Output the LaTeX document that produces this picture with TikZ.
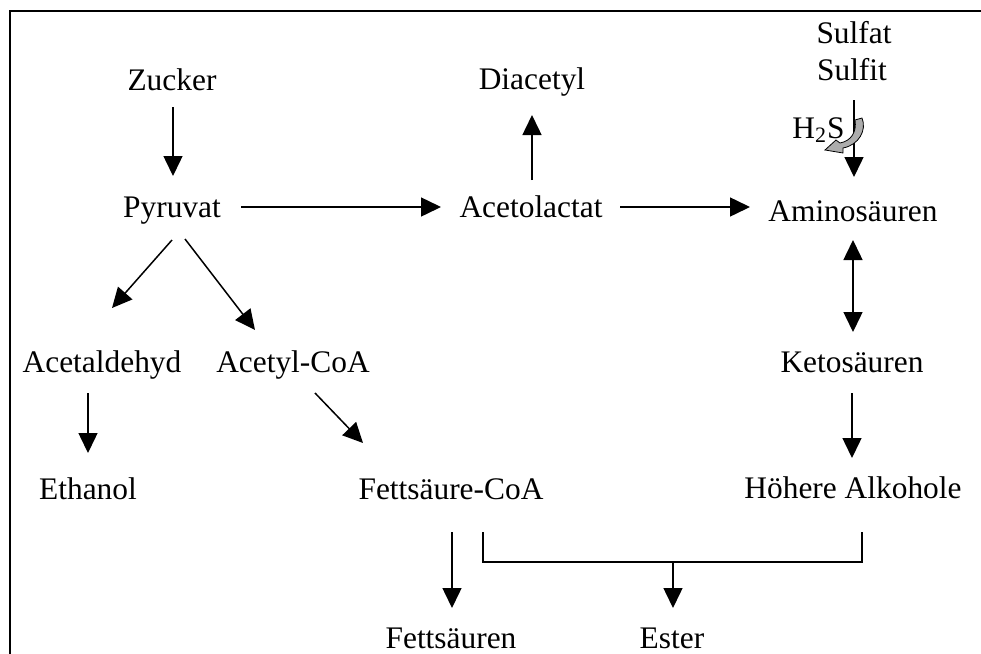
\documentclass[tikz,border=0pt]{standalone}
\usepackage{fontspec}
\setmainfont{Liberation Serif}
\usetikzlibrary{arrows.meta,calc}
\begin{document}
\begin{tikzpicture}[x=0.5pt,y=-0.5pt,
  lbl/.style={inner sep=0pt,anchor=base,font=\fontsize{15.7}{18}\selectfont},
  arr/.style={line width=0.75pt,-{Triangle[length=10pt,width=9.5pt]}},
  darr/.style={line width=0.75pt,{Triangle[length=10pt,width=9.5pt]}-{Triangle[length=10pt,width=9.5pt]}},
  plain/.style={line width=0.75pt},
  frame/.style={line width=1pt}]
\useasboundingbox (0,0) rectangle (981,654);
\draw[frame] (10,660) -- (10,11) -- (990,11);
% nodes
\node[lbl] (zucker) at (172,90) {Zucker};
\node[lbl] (diacetyl) at (532,89) {Diacetyl};
\node[lbl] (sulfat) at (854,43) {Sulfat};
\node[lbl] (sulfit) at (852,80) {Sulfit};
\node[lbl,anchor=base west] (h2s) at (792,138) {H\textsubscript{2}S};
\node[lbl] (pyruvat) at (172,217) {Pyruvat};
\node[lbl] (acetolactat) at (531,217) {Acetolactat};
\node[lbl] (amino) at (853,221) {Aminosäuren};
\node[lbl] (acetaldehyd) at (102,372) {Acetaldehyd};
\node[lbl] (acetylcoa) at (293,372) {Acetyl-CoA};
\node[lbl] (keto) at (852,372) {Ketosäuren};
\node[lbl] (ethanol) at (88,499) {Ethanol};
\node[lbl] (fettcoa) at (451,499) {Fettsäure-CoA};
\node[lbl] (hoehere) at (853,498) {Höhere Alkohole};
\node[lbl] (fettsaeuren) at (451,648) {Fettsäuren};
\node[lbl] (ester) at (672,648) {Ester};
% connectors
\draw[arr] ($(zucker.base)+(1,17)$) -- ($(pyruvat.base)+(1,-41)$);
\draw[arr] ($(pyruvat.base)+(69,-10)$) -- ($(acetolactat.base)+(-90,-10)$);
\draw[arr] ($(acetolactat.base)+(89,-10)$) -- ($(amino.base)+(-103,-14)$);
\draw[arr] ($(acetolactat.base)+(1,-37)$) -- ($(diacetyl.base)+(0,26)$);
\draw[arr] ($(sulfit.base)+(2,20)$) -- ($(amino.base)+(1,-44)$);
\draw[arr] ($(pyruvat.base)+(0,23)$) -- ($(acetaldehyd.base)+(10,-64)$);
\draw[arr] ($(pyruvat.base)+(13,22)$) -- ($(acetylcoa.base)+(-38,-42)$);
\draw[arr] ($(acetaldehyd.base)+(-14,21)$) -- ($(ethanol.base)+(0,-46)$);
\draw[arr] ($(acetylcoa.base)+(22,21)$) -- ($(fettcoa.base)+(-88,-56)$);
\draw[darr] ($(amino.base)+(0,19)$) -- ($(keto.base)+(1,-40)$);
\draw[arr] ($(keto.base)+(0,21)$) -- ($(hoehere.base)+(-1,-40)$);
\draw[arr] ($(fettcoa.base)+(1,33)$) -- ($(fettsaeuren.base)+(1,-40)$);
\coordinate (join) at ($(ester.base)+(1,-86)$);
\draw[plain] ($(fettcoa.base)+(32,33)$) |- (join) -| ($(hoehere.base)+(9,34)$);
\draw[arr] (join) -- ($(ester.base)+(1,-40)$);
% curved gray arrow near H2S
\filldraw[fill=gray!65,draw=black,line width=0.4pt]
  (855,120) -- (862,118) .. controls (867,130) and (859,145) .. (843,148)
  -- (843,153) -- (825,150) -- (836,140) -- (840,143)
  .. controls (851,141) and (857,132) .. (855,120) -- cycle;
\end{tikzpicture}
\end{document}
